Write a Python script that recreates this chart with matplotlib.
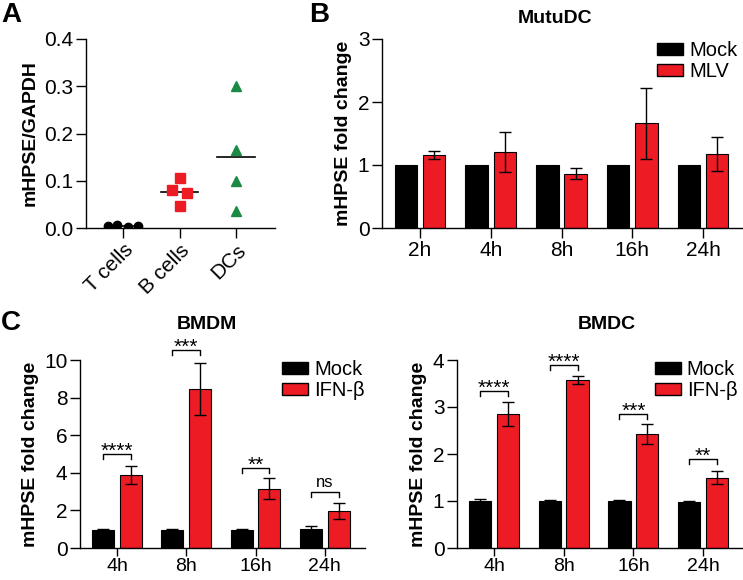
import numpy as np
import matplotlib
matplotlib.use("Agg")
import matplotlib.pyplot as plt
from matplotlib.patches import Patch

plt.rcParams["font.family"] = ["Liberation Sans", "DejaVu Sans"]

RED = "#ed1c24"
GREEN = "#1b8a45"

# Panel A
cells = ["T cells", "B cells", "DCs"]
t_cells = [0.004, 0.007, 0.003, 0.005]
b_cells = [0.081, 0.105, 0.075, 0.047]
dcs = [0.300, 0.165, 0.100, 0.035]
t_dx = [-0.27, -0.11, 0.09, 0.27]
b_dx = [-0.13, 0.0, 0.13, 0.0]

# Panel B
times_b = ["2h", "4h", "8h", "16h", "24h"]
mock_b = [1, 1, 1, 1, 1]
mlv_b = [1.16, 1.21, 0.86, 1.66, 1.18]
mlv_err = [0.07, 0.32, 0.09, 0.56, 0.27]

# Panel C
times_c = ["4h", "8h", "16h", "24h"]
mock_bmdm = [0.95, 0.96, 0.95, 1.0]
mock_bmdm_err = [0.05, 0.05, 0.05, 0.15]
ifn_bmdm = [3.87, 8.45, 3.15, 1.98]
ifn_bmdm_err = [0.47, 1.40, 0.55, 0.42]
sig_bmdm = ["****", "***", "**", "ns"]
sig_bmdm_y = [5.0, 10.55, 4.25, 3.0]

mock_bmdc = [1.0, 0.99, 0.99, 0.98]
mock_bmdc_err = [0.05, 0.04, 0.03, 0.02]
ifn_bmdc = [2.85, 3.57, 2.42, 1.50]
ifn_bmdc_err = [0.26, 0.08, 0.21, 0.14]
sig_bmdc = ["****", "****", "***", "**"]
sig_bmdc_y = [3.34, 3.90, 2.86, 1.89]

W, H = 743, 580
fig = plt.figure(figsize=(W / 100, H / 100), dpi=100)


def make_ax(x0, x1, y_top, y_bot):
    return fig.add_axes([x0 / W, 1 - y_bot / H, (x1 - x0) / W, (y_bot - y_top) / H])


def style(ax, xsize=15):
    for s in ["top", "right"]:
        ax.spines[s].set_visible(False)
    for s in ["left", "bottom"]:
        ax.spines[s].set_linewidth(1.0)
    ax.tick_params(direction="out", length=7, width=1.0, labelsize=15, pad=2)
    ax.tick_params(axis="x", labelsize=xsize)


def bars(ax, labels, mock, treat, treat_err, mock_err=None):
    x = np.arange(len(labels))
    w = 0.32
    ax.bar(x - 0.2, mock, w, color="black", edgecolor="black", lw=0.8,
           yerr=mock_err, capsize=4, error_kw=dict(elinewidth=1, capthick=1))
    ax.bar(x + 0.2, treat, w, color=RED, edgecolor="black", lw=0.8,
           yerr=treat_err, capsize=4, error_kw=dict(elinewidth=1, capthick=1))
    ax.set_xticks(x)
    ax.set_xticklabels(labels)
    return x


def sig(ax, xs, ys, texts, drop):
    for x, y, t in zip(xs, ys, texts):
        ax.plot([x - 0.2, x - 0.2, x + 0.2, x + 0.2], [y - drop, y, y, y - drop],
                color="black", lw=1, clip_on=False)
        if t == "ns":
            ax.annotate(t, (x, y), xytext=(0, 3), textcoords="offset points",
                        ha="center", va="baseline", fontsize=12, annotation_clip=False)
        else:
            ax.annotate(t, (x, y), xytext=(0, -2), textcoords="offset points",
                        ha="center", va="baseline", fontsize=15, annotation_clip=False)


def legend(ax, labels, anchor):
    handles = [Patch(facecolor="black", edgecolor="black"),
               Patch(facecolor=RED, edgecolor="black")]
    ax.legend(handles, labels, loc="upper right", bbox_to_anchor=anchor,
              frameon=False, fontsize=14.5, handlelength=1.3, handleheight=0.55,
              handletextpad=0.3, labelspacing=0.1, borderpad=0, borderaxespad=0)


# A
axA = make_ax(86, 275, 39, 228)
style(axA)
axA.plot(np.array(t_dx), t_cells, "o", color="black", ms=6, zorder=3)
axA.plot(1 + np.array(b_dx), b_cells, "s", color=RED, ms=7, zorder=3)
axA.plot([2] * len(dcs), dcs, "^", color=GREEN, ms=7, zorder=3)
for i, vals, hw in [(0, t_cells, 0.32), (1, b_cells, 0.33), (2, dcs, 0.33)]:
    axA.plot([i - hw, i + hw], [np.mean(vals)] * 2, color="black", lw=1.2, zorder=2)
axA.set_xlim(-0.66, 2.69)
axA.set_ylim(0, 0.4)
axA.set_yticks([0, 0.1, 0.2, 0.3, 0.4])
axA.set_yticklabels(["0.0", "0.1", "0.2", "0.3", "0.4"])
axA.set_xticks([0, 1, 2])
axA.set_xticklabels(cells, rotation=45, ha="right", rotation_mode="anchor")
axA.set_ylabel("mHPSE/GAPDH", fontsize=14, fontweight="bold", labelpad=4)

# B
axB = make_ax(382, 743, 39, 228)
style(axB)
bars(axB, times_b, mock_b, mlv_b, mlv_err)
axB.set_xlim(-0.537, 4.565)
axB.set_ylim(0, 3)
axB.set_yticks([0, 1, 2, 3])
axB.set_ylabel("mHPSE fold change", fontsize=14, fontweight="bold", labelpad=4)
legend(axB, ["Mock", "MLV"], (0.985, 0.99))

# C left
axC1 = make_ax(80, 365, 360, 548)
style(axC1, xsize=14)
axC1.tick_params(axis="x", length=6, pad=1)
x = bars(axC1, times_c, mock_bmdm, ifn_bmdm, ifn_bmdm_err, mock_bmdm_err)
axC1.set_xlim(-0.534, 3.58)
axC1.set_ylim(0, 10)
axC1.set_yticks([0, 2, 4, 6, 8, 10])
axC1.set_ylabel("mHPSE fold change", fontsize=14, fontweight="bold", labelpad=4)
sig(axC1, x, sig_bmdm_y, sig_bmdm, 0.27)
legend(axC1, ["Mock", "IFN-β"], (1.0, 1.0))

# C right
axC2 = make_ax(457, 743, 360, 548)
style(axC2, xsize=14)
axC2.tick_params(axis="x", length=6, pad=1)
x = bars(axC2, times_c, mock_bmdc, ifn_bmdc, ifn_bmdc_err, mock_bmdc_err)
axC2.set_xlim(-0.531, 3.574)
axC2.set_ylim(0, 4)
axC2.set_yticks([0, 1, 2, 3, 4])
axC2.set_ylabel("mHPSE fold change", fontsize=14, fontweight="bold", labelpad=4)
sig(axC2, x, sig_bmdc_y, sig_bmdc, 0.108)
legend(axC2, ["Mock", "IFN-β"], (0.98, 1.0))

# titles and panel letters
fig.text(555 / W, 1 - 23 / H, "MutuDC", ha="center", va="baseline", fontsize=14, fontweight="bold")
fig.text(207 / W, 1 - 329 / H, "BMDM", ha="center", va="baseline", fontsize=14, fontweight="bold")
fig.text(607 / W, 1 - 329 / H, "BMDC", ha="center", va="baseline", fontsize=14, fontweight="bold")
fig.text(1 / W, 1 - 22 / H, "A", ha="left", va="baseline", fontsize=20, fontweight="bold")
fig.text(309 / W, 1 - 22 / H, "B", ha="left", va="baseline", fontsize=20, fontweight="bold")
fig.text(1 / W, 1 - 330 / H, "C", ha="left", va="baseline", fontsize=20, fontweight="bold")

fig.savefig("out.png", dpi=100)
